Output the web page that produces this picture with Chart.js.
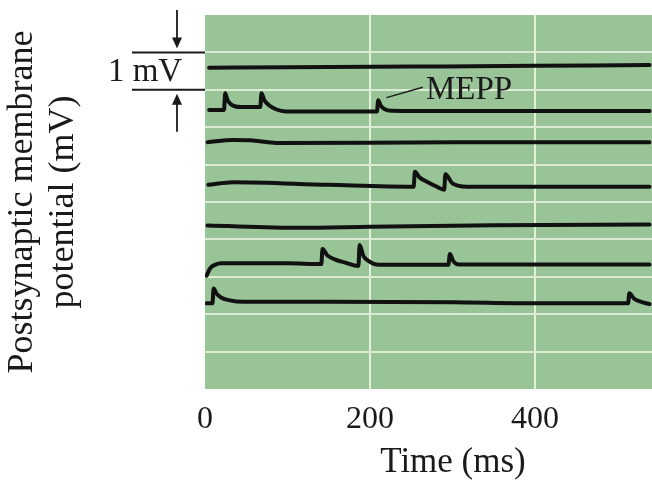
<!DOCTYPE html>
<html>
<head>
<meta charset="utf-8">
<script src="https://cdn.jsdelivr.net/npm/chart.js@4"></script>
<style>
    body { margin: 0; background: #fff; }
    canvas { display: block; }
</style>
</head>
<body>
<canvas id="mepps" width="652" height="481"></canvas>
<script>
// Time (ms) and potential (mV, stacked offsets) for each of the seven traces
const t1 = [5, 100, 250, 400, 539];
const v1 = [8.59, 8.60, 8.62, 8.64, 8.66];

const t2 = [5, 23, 24.5, 27, 31, 36, 44, 67, 68.5, 72, 78, 86, 98, 208.5, 210, 213, 218, 226, 300, 539];
const v2 = [7.46, 7.46, 7.91, 7.74, 7.62, 7.56, 7.54, 7.54, 7.91, 7.72, 7.58, 7.48, 7.42, 7.42, 7.72, 7.58, 7.48, 7.44, 7.43, 7.43];

const t3 = [3, 34, 55, 87, 250, 400, 539];
const v3 = [6.60, 6.66, 6.65, 6.58, 6.59, 6.60, 6.60];

const t4 = [4, 34, 150, 253, 254.5, 260, 269, 280, 290, 291.5, 300, 318, 400, 539];
const v4 = [5.46, 5.53, 5.46, 5.41, 5.81, 5.66, 5.54, 5.42, 5.33, 5.74, 5.50, 5.41, 5.41, 5.41];

const t5 = [3, 115, 200, 350, 539];
const v5 = [4.37, 4.31, 4.34, 4.38, 4.40];

const t6 = [2, 6, 12, 20, 100, 141, 142.5, 148, 158, 170, 186, 187.5, 192, 200, 210, 295, 297, 301, 308, 400, 539];
const v6 = [3.03, 3.22, 3.32, 3.36, 3.36, 3.34, 3.74, 3.58, 3.46, 3.38, 3.29, 3.85, 3.56, 3.40, 3.32, 3.32, 3.61, 3.42, 3.33, 3.33, 3.33];

const t7 = [2, 9, 10.5, 14, 20, 30, 46, 150, 300, 400, 513, 514.5, 520, 530, 539];
const v7 = [2.29, 2.29, 2.69, 2.55, 2.44, 2.37, 2.33, 2.33, 2.32, 2.29, 2.29, 2.56, 2.42, 2.32, 2.27];

const xTicks = [0, 200, 400];
const xMax = 542;

const traces = [[t1, v1], [t2, v2], [t3, v3], [t4, v4], [t5, v5], [t6, v6], [t7, v7]];

const serif = "'Liberation Serif', 'Times New Roman', serif";
const ink = "#1a1a1a";

// green panel behind the grid
const panelBg = {
    id: "panelBg",
    beforeDraw(chart) {
        const { ctx, chartArea: a } = chart;
        ctx.save();
        ctx.fillStyle = "#99c497";
        ctx.fillRect(a.left, a.top, a.right - a.left, a.bottom - a.top);
        ctx.restore();
    }
};

// scale bar, arrows, MEPP label and x title
const annotations = {
    id: "annotations",
    afterDraw(chart) {
        const { ctx, chartArea: a } = chart;
        const y = chart.scales.y;
        const x = chart.scales.x;
        const yTop = y.getPixelForValue(9);
        const yBot = y.getPixelForValue(8);
        ctx.save();
        ctx.strokeStyle = ink;
        ctx.fillStyle = ink;
        ctx.lineWidth = 2;

        // 1 mV bracket lines
        ctx.beginPath();
        ctx.moveTo(132, yTop);
        ctx.lineTo(a.left, yTop);
        ctx.moveTo(132, yBot);
        ctx.lineTo(a.left, yBot);
        ctx.stroke();

        // arrows
        const ax = 177;
        ctx.lineWidth = 1.8;
        ctx.beginPath();
        ctx.moveTo(ax, 10);
        ctx.lineTo(ax, yTop - 12);
        ctx.moveTo(ax, yBot + 12);
        ctx.lineTo(ax, yBot + 42);
        ctx.stroke();
        ctx.beginPath();
        ctx.moveTo(ax - 5, yTop - 15);
        ctx.lineTo(ax + 5, yTop - 15);
        ctx.lineTo(ax, yTop - 4);
        ctx.closePath();
        ctx.moveTo(ax - 5, yBot + 15);
        ctx.lineTo(ax + 5, yBot + 15);
        ctx.lineTo(ax, yBot + 4);
        ctx.closePath();
        ctx.fill();

        ctx.font = "33px " + serif;
        ctx.textAlign = "center";
        ctx.textBaseline = "middle";
        ctx.fillText("1 mV", 145, (yTop + yBot) / 2 + 1);

        // MEPP label with leader
        ctx.lineWidth = 1.5;
        ctx.beginPath();
        ctx.moveTo(x.getPixelForValue(220), y.getPixelForValue(7.79));
        ctx.lineTo(x.getPixelForValue(264), y.getPixelForValue(8.07));
        ctx.stroke();
        ctx.font = "33px " + serif;
        ctx.fillText("MEPP", 469, 90);

        // x axis title
        ctx.font = "35px " + serif;
        ctx.fillText("Time (ms)", 453, 463);
        ctx.restore();
    }
};

document.addEventListener("DOMContentLoaded", () => {
    const ctx = document.getElementById("mepps").getContext("2d");

    const datasets = traces.map(([ts, vs]) => ({
        data: ts.map((t, i) => ({ x: t, y: vs[i] })),
        borderColor: "#111",
        borderWidth: 4,
        pointRadius: 0,
        fill: false,
        cubicInterpolationMode: "monotone",
        borderCapStyle: "round",
        borderJoinStyle: "round"
    }));

    new Chart(ctx, {
        type: "line",
        data: { datasets: datasets },
        plugins: [panelBg, annotations],
        options: {
            responsive: false,
            animation: false,
            layout: { padding: { top: 15, right: 0, left: 0, bottom: 0 } },
            plugins: {
                legend: { display: false },
                tooltip: { enabled: false }
            },
            scales: {
                x: {
                    type: "linear",
                    min: 0,
                    max: xMax,
                    afterFit: (scale) => { scale.height = 92; },
                    afterBuildTicks: (scale) => {
                        scale.ticks = xTicks.map(v => ({ value: v }));
                    },
                    border: { display: false },
                    grid: {
                        drawTicks: false,
                        lineWidth: 2,
                        color: (c) => c.tick && c.tick.value === 0 ? "rgba(0,0,0,0)" : "#e4f0dc"
                    },
                    ticks: {
                        padding: 11,
                        color: ink,
                        font: { family: serif, size: 32 }
                    }
                },
                y: {
                    min: 0,
                    max: 10,
                    afterFit: (scale) => { scale.width = 205; },
                    border: { display: false },
                    grid: {
                        drawTicks: false,
                        lineWidth: 2,
                        color: (c) => c.tick && (c.tick.value === 0 || c.tick.value === 10) ? "rgba(0,0,0,0)" : "#dcebd4"
                    },
                    ticks: { stepSize: 1, display: false },
                    title: {
                        display: true,
                        text: ["Postsynaptic membrane", "potential (mV)"],
                        color: ink,
                        font: { family: serif, size: 36, lineHeight: "41px" },
                        padding: { top: 2.5, bottom: 0 }
                    }
                }
            }
        }
    });
});
</script>
</body>
</html>
